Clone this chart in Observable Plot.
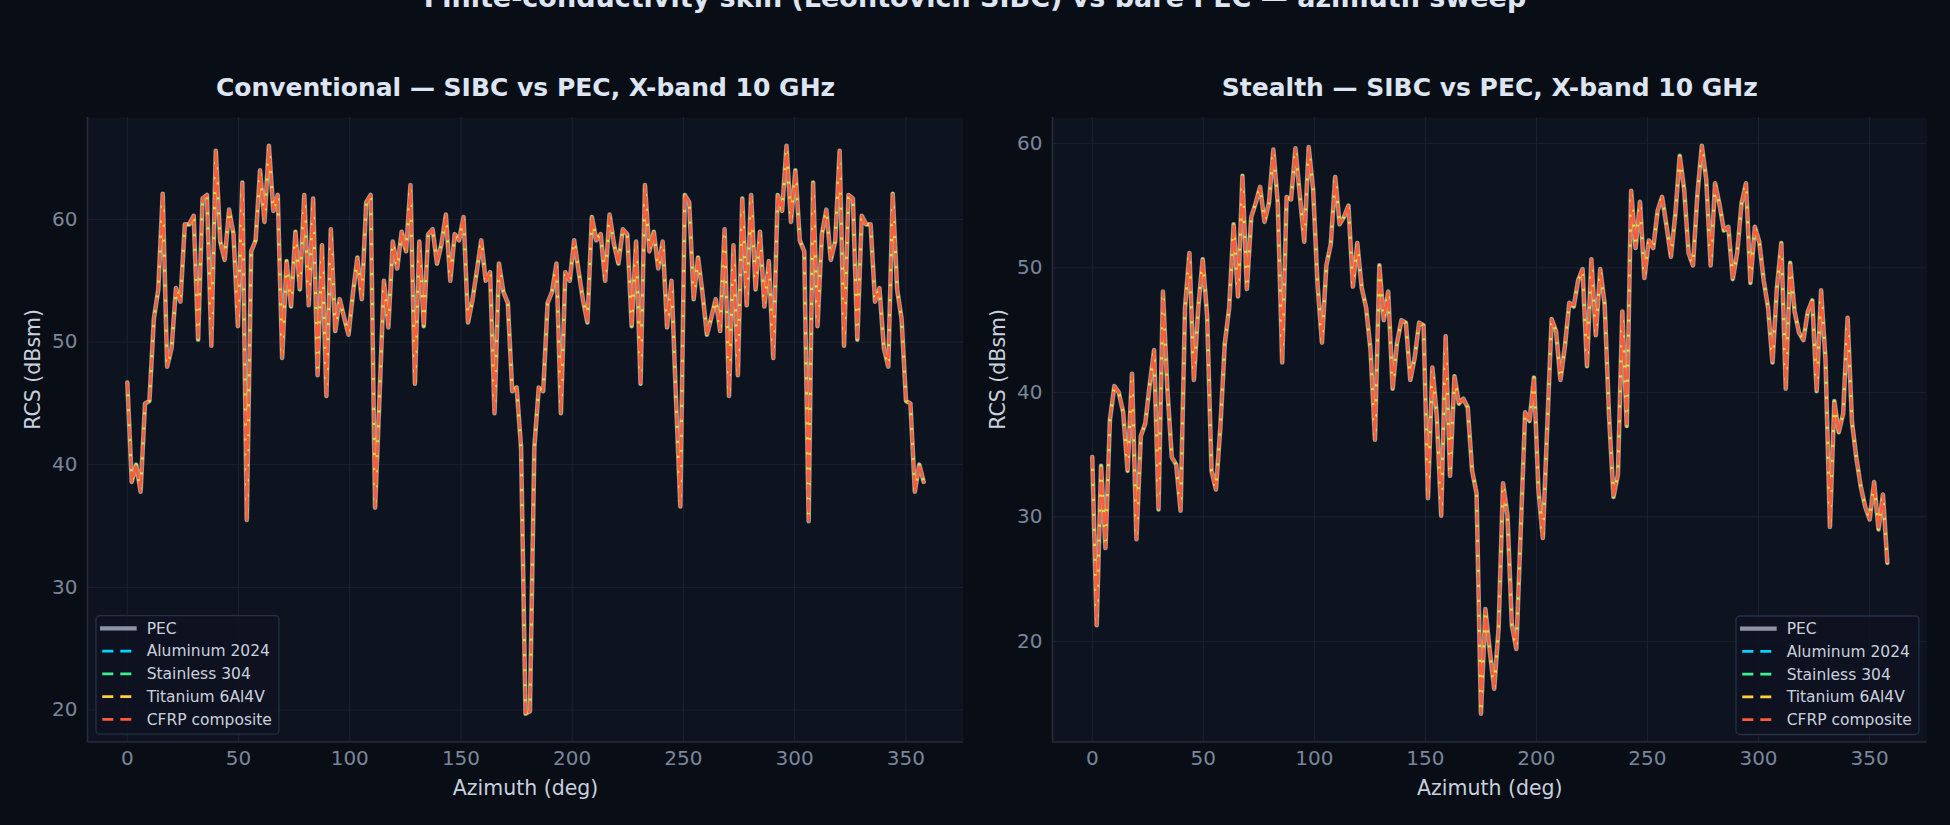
<!DOCTYPE html>
<html>
<head>
<meta charset="utf-8">
<script src="https://cdn.jsdelivr.net/npm/d3@7"></script>
<script src="https://cdn.jsdelivr.net/npm/@observablehq/plot@0.6"></script>
<style>
  html, body { margin: 0; padding: 0; background: #090d15; }
  #fig { position: relative; width: 1950px; height: 825px; overflow: hidden; background: #090d15; }
  #fig > svg { position: absolute; top: 0; }
</style>
</head>
<body>
<div id="fig"></div>
<script>
const suptitle = "Finite-conductivity skin (Leontovich SIBC) vs bare PEC — azimuth sweep";
const panelTitles = ["Conventional — SIBC vs PEC, X-band 10 GHz", "Stealth — SIBC vs PEC, X-band 10 GHz"];
const materials = ["PEC", "Aluminum 2024", "Stainless 304", "Titanium 6Al4V", "CFRP composite"];
const materialColors = ["#8c95a8", "#00d4ff", "#3cf08f", "#ffd23d", "#ff5b3a"];
const xTicks = [0, 50, 100, 150, 200, 250, 300, 350];
const yTicks = [20, 30, 40, 50, 60];

// 181 azimuth samples over the full turn (endpoint excluded)
const azStep = 360 / 181;

// RCS (dBsm), PEC and the SIBC skins overlap to the eye
const conventionalRcs = [
  46.7, 38.6, 40.0, 37.8, 45.0, 45.2, 51.9, 54.3, 62.1, 48.0,
  49.5, 54.4, 53.3, 59.6, 59.6, 60.3, 50.2, 61.7, 62.0, 49.7,
  65.6, 58.2, 56.7, 60.8, 58.8, 51.3, 63.0, 35.5, 57.4, 58.3,
  64.0, 59.8, 66.0, 60.7, 62.0, 48.7, 56.6, 52.9, 59.0, 54.3,
  62.0, 53.0, 61.7, 47.3, 57.9, 45.6, 59.2, 50.9, 53.5, 52.0,
  50.6, 54.0, 56.9, 53.5, 61.4, 62.0, 36.5, 45.5, 55.0, 51.2,
  58.2, 56.0, 59.0, 57.4, 62.8, 46.6, 58.2, 51.3, 58.8, 59.2,
  56.4, 58.0, 60.4, 55.0, 58.8, 58.3, 60.2, 51.6, 53.4, 55.8,
  58.3, 55.0, 55.7, 44.2, 56.4, 54.1, 53.2, 46.0, 46.3, 41.4,
  19.7, 19.9, 41.4, 46.3, 46.0, 53.2, 54.1, 56.4, 44.2, 55.7,
  55.0, 58.3, 55.8, 53.4, 51.6, 60.2, 58.3, 58.8, 55.0, 60.4,
  58.0, 56.4, 59.2, 58.8, 51.3, 58.2, 46.6, 62.8, 57.4, 59.0,
  56.0, 58.2, 51.2, 55.0, 45.5, 36.6, 62.0, 61.4, 53.5, 56.9,
  54.0, 50.6, 52.0, 53.5, 50.9, 59.2, 45.6, 57.9, 47.3, 61.7,
  53.0, 62.0, 54.3, 59.0, 52.9, 56.6, 48.7, 62.0, 60.7, 66.0,
  59.8, 64.0, 58.3, 57.4, 35.4, 63.0, 51.3, 58.8, 60.8, 56.7,
  58.2, 65.6, 49.7, 62.0, 61.7, 50.2, 60.3, 59.6, 59.6, 53.3,
  54.4, 49.5, 48.0, 62.1, 54.3, 51.9, 45.2, 45.0, 37.8, 40.0,
  38.6
];

const stealthRcs = [
  34.8, 21.3, 34.1, 27.5, 37.8, 40.5, 40.0, 38.4, 33.7, 41.5,
  28.2, 36.5, 37.5, 40.6, 43.4, 30.6, 48.1, 40.3, 34.8, 34.2,
  30.5, 46.8, 51.2, 41.0, 46.8, 50.7, 46.2, 33.7, 32.2, 37.2,
  43.9, 46.8, 53.5, 47.7, 57.4, 48.3, 54.1, 55.2, 56.5, 53.7,
  55.2, 59.5, 55.2, 42.4, 55.7, 55.5, 59.6, 55.8, 52.1, 59.7,
  56.3, 48.7, 44.0, 50.2, 51.9, 57.3, 53.5, 54.1, 55.0, 48.5,
  52.0, 48.4, 46.8, 43.4, 36.2, 50.2, 45.8, 48.1, 40.3, 44.0,
  45.8, 45.6, 41.0, 42.8, 45.6, 45.4, 31.5, 42.0, 38.1, 30.1,
  44.5, 33.3, 41.3, 39.1, 39.5, 38.8, 33.7, 31.9, 14.2, 22.6,
  19.2, 16.2, 21.1, 32.7, 30.1, 21.3, 19.4, 28.9, 38.4, 37.7,
  41.2, 32.2, 28.3, 37.2, 45.9, 44.9, 41.0, 43.7, 47.2, 46.9,
  49.0, 49.9, 42.1, 50.7, 44.6, 49.9, 47.1, 38.1, 31.6, 33.4,
  46.5, 37.3, 56.2, 51.6, 55.3, 49.2, 52.2, 51.6, 54.6, 55.7,
  53.4, 50.9, 54.3, 59.0, 56.3, 51.2, 50.2, 55.9, 59.8, 57.1,
  50.2, 56.8, 55.1, 53.0, 53.3, 49.1, 51.2, 55.2, 56.8, 48.8,
  53.3, 52.1, 49.0, 46.8, 42.4, 48.4, 52.0, 40.3, 50.4, 46.5,
  44.8, 44.2, 46.5, 47.4, 40.1, 48.2, 42.6, 29.2, 39.3, 36.8,
  38.3, 46.0, 37.6, 34.7, 32.4, 30.8, 29.8, 32.8, 29.0, 31.8,
  26.3
];

const figBg = "#090d15";
const axesBg = "#0e1320";
const gridColor = "#1a2231";
const spineColor = "#232d3c";
const tickColor = "#7a869c";
const labelColor = "#c8d0de";
const titleColor = "#dde5f3";
const dashOffsets = [0, 11, 4, 7.5, 0];

const fig = document.querySelector("#fig");

function panel(values, title, margins) {
  const rows = values.map((rcs, i) => ({az: i * azStep, rcs}));
  // matplotlib-like 5% padding around the data
  const [x0, x1] = d3.extent(rows, d => d.az);
  const [y0, y1] = d3.extent(values);
  const xDomain = [x0 - (x1 - x0) * 0.05, x1 + (x1 - x0) * 0.05];
  const yDomain = [y0 - (y1 - y0) * 0.05, y1 + (y1 - y0) * 0.05];

  return Plot.plot({
    width: 975,
    height: 825,
    marginLeft: margins.left,
    marginRight: margins.right,
    marginTop: 117,
    marginBottom: 83.5,
    style: {background: "transparent", color: tickColor, fontFamily: "DejaVu Sans, sans-serif", fontSize: "20px"},
    x: {domain: xDomain},
    y: {domain: yDomain},
    marks: [
      Plot.frame({fill: axesBg, stroke: "none"}),
      Plot.gridX(xTicks, {stroke: gridColor, strokeOpacity: 1, strokeWidth: 1}),
      Plot.gridY(yTicks, {stroke: gridColor, strokeOpacity: 1, strokeWidth: 1}),
      Plot.ruleX([xDomain[0]], {stroke: spineColor, strokeWidth: 1.6}),
      Plot.ruleY([yDomain[0]], {stroke: spineColor, strokeWidth: 1.6}),
      ...materials.map((m, j) => Plot.line(rows, {
        x: "az", y: "rcs",
        stroke: materialColors[j],
        strokeWidth: j ? 2.8 : 4.6,
        strokeDasharray: j ? "10.5,4.5" : undefined,
        strokeDashoffset: dashOffsets[j],
        strokeLinejoin: "round"
      })),
      Plot.axisX(xTicks, {tickSize: 0, tickPadding: 9, label: null}),
      Plot.axisY(yTicks, {tickSize: 0, tickPadding: 10, label: null}),
      Plot.text([title], {frameAnchor: "top", dy: -22, lineAnchor: "bottom", fontSize: 25, fontWeight: "bold", fill: titleColor}),
      Plot.text(["Azimuth (deg)"], {frameAnchor: "bottom", dy: 53, lineAnchor: "bottom", fontSize: 20.5, fill: labelColor}),
      Plot.text(["RCS (dBsm)"], {frameAnchor: "left", dx: -54, rotate: -90, lineAnchor: "middle", fontSize: 20.5, fill: labelColor})
    ]
  });
}

const left = panel(conventionalRcs, panelTitles[0], {left: 87, right: 12});
left.style.left = "0px";
const right = panel(stealthRcs, panelTitles[1], {left: 77, right: 23.4});
right.style.left = "975px";
fig.append(left, right);

// suptitle and legends on an overlay
const overlay = d3.create("svg")
  .attr("width", 1950)
  .attr("height", 825)
  .style("left", "0px")
  .style("font-family", "DejaVu Sans, sans-serif");

overlay.append("text")
  .attr("x", 975).attr("y", 6.5)
  .attr("text-anchor", "middle")
  .attr("font-size", 27).attr("font-weight", "bold")
  .attr("fill", titleColor)
  .text(suptitle);

const legendCorners = [[96, 615.7], [1736, 616]];
legendCorners.forEach(([lx, ly]) => {
  const g = overlay.append("g").attr("transform", `translate(${lx},${ly})`);
  g.append("rect")
    .attr("width", 183).attr("height", 118.5).attr("rx", 4)
    .attr("fill", axesBg).attr("fill-opacity", 0.9)
    .attr("stroke", "#263142").attr("stroke-width", 1.3);
  materials.forEach((m, j) => {
    const y = 12.6 + j * 22.75;
    g.append("line")
      .attr("x1", j ? 6.3 : 4).attr("x2", j ? 36.5 : 40.7)
      .attr("y1", y).attr("y2", y)
      .attr("stroke", materialColors[j])
      .attr("stroke-width", j ? 2.8 : 4.2)
      .attr("stroke-dasharray", j ? "11,7" : null);
    g.append("text")
      .attr("x", 50.7).attr("y", y).attr("dy", "0.35em")
      .attr("font-size", 15.5)
      .attr("fill", "#c9d1de")
      .text(m);
  });
});

fig.append(overlay.node());
</script>
</body>
</html>
